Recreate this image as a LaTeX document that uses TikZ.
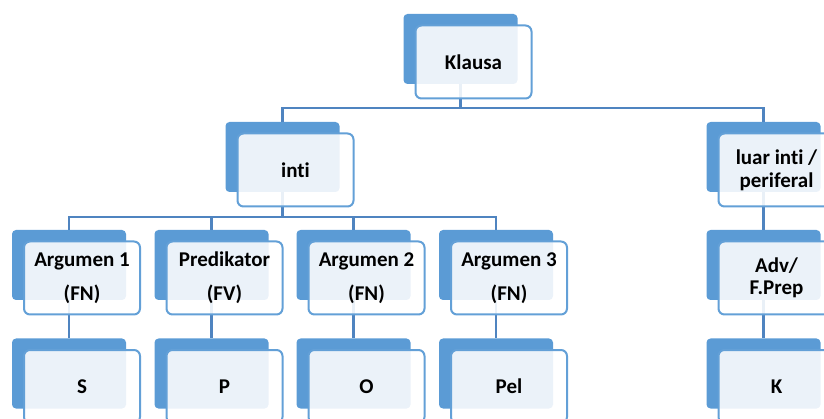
\documentclass[tikz,border=0pt]{standalone}
\usepackage{fontspec}
\setmainfont{Carlito}[Ligatures = NoCommon]
\usepackage{xcolor}
\usepackage{tikz}
\usetikzlibrary{backgrounds}

\definecolor{smblue}{HTML}{5B9BD5}
\definecolor{smline}{HTML}{4F84C0}

\begin{document}
\begin{tikzpicture}[x = 1pt, y = -1pt,
    back/.style = {fill = smblue, rounded corners = 4pt, minimum width = 114pt, minimum height = 70pt, inner sep = 0pt},
    front/.style = {draw = smblue!95, line width = 2pt, fill = white, fill opacity = 0.88, draw opacity = 1, text opacity = 1,
                    rounded corners = 6pt, minimum width = 116pt, minimum height = 73pt, inner sep = 0pt,
                    font = \fontsize{21}{23}\selectfont\bfseries, align = center},
    link/.style = {draw = smline, line width = 2.5pt}]

    \useasboundingbox (0,0) rectangle (824,419);
    \clip (0,0) rectangle (824,419);

    % \draw [help lines, step = 50] (0,0) grid (824,419);

    % top
    \node [back] (klausa-b) at (460.5,49) {};
    \node [front] (klausa) at (473.5,62) {Klausa};

    % level 2
    \node [back] (inti-b) at (282.5,157) {};
    \node [front] (inti) at (295.5,170) {inti};

    \node [back] (luar-b) at (763.5,157) {};
    \node [front] (luar) at (776.5,170) {luar inti /\\[0pt]periferal};

    % level 3
    \node [back] (arg1-b) at (69,265) {};
    \node [front] (arg1) at (82,278) {Argumen 1\\[11pt](FN)};

    \node [back] (pred-b) at (211.5,265) {};
    \node [front] (pred) at (224.5,278) {Predikator\\[11pt](FV)};

    \node [back] (arg2-b) at (353.5,265) {};
    \node [front] (arg2) at (366.5,278) {Argumen 2\\[11pt](FN)};

    \node [back] (arg3-b) at (496,265) {};
    \node [front] (arg3) at (509,278) {Argumen 3\\[11pt](FN)};

    \node [back] (adv-b) at (763.5,265) {};
    \node [front] (adv) at (776.5,278) {Adv/\\[-1pt]F.Prep};

    % level 4
    \node [back] (s-b) at (69,373.5) {};
    \node [front] (s) at (82,386.5) {S};

    \node [back] (p-b) at (211.5,373.5) {};
    \node [front] (p) at (224.5,386.5) {P};

    \node [back] (o-b) at (353.5,373.5) {};
    \node [front] (o) at (366.5,386.5) {O};

    \node [back] (pel-b) at (496,373.5) {};
    \node [front] (pel) at (509,386.5) {Pel};

    \node [back] (k-b) at (763.5,373.5) {};
    \node [front] (k) at (776.5,386.5) {K};

    % connectors
    \coordinate (bus1) at (0,108);
    \coordinate (bus2) at (0,217);

    \begin{scope}[on background layer]
        \draw [link] (klausa-b) -- (klausa-b |- bus1) -| (inti-b);
        \draw [link] (klausa-b |- bus1) -| (luar-b);

        \draw [link] (inti-b) -- (inti-b |- bus2) -| (arg1-b);
        \draw [link] (inti-b |- bus2) -| (pred-b);
        \draw [link] (inti-b |- bus2) -| (arg2-b);
        \draw [link] (inti-b |- bus2) -| (arg3-b);
        \draw [link] (luar-b) -- (adv-b);

        \draw [link] (arg1-b) -- (s-b);
        \draw [link] (pred-b) -- (p-b);
        \draw [link] (arg2-b) -- (o-b);
        \draw [link] (arg3-b) -- (pel-b);
        \draw [link] (adv-b) -- (k-b);
    \end{scope}

\end{tikzpicture}
\end{document}
